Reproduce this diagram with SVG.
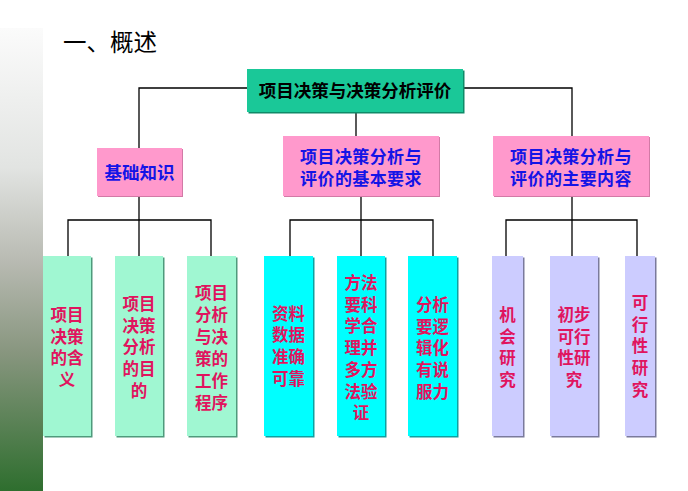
<svg xmlns="http://www.w3.org/2000/svg" width="688" height="491" viewBox="0 0 688 491">
<defs>
<linearGradient id="strip" x1="0" y1="0" x2="0" y2="1">
<stop offset="0" stop-color="#fbfbfb"/>
<stop offset="0.3" stop-color="#e2e4e2"/>
<stop offset="0.5" stop-color="#b9bbb3"/>
<stop offset="0.7" stop-color="#88967f"/>
<stop offset="1" stop-color="#2e6e2e"/>
</linearGradient>
<style>
text{font-family:"Noto Sans CJK SC","Noto Sans",sans-serif;}
.b{font-weight:700;text-anchor:middle;}
.top{fill:#1ac898;}
.topsh{fill:#0f8a68;}
.pink{fill:#ff99cc;}
.pinksh{fill:#d27aa6;}
.green{fill:#a0f7d2;}
.greensh{fill:#4f9a7c;}
.cyan{fill:#00ffff;}
.cyansh{fill:#10a0a0;}
.lav{fill:#ccccff;}
.lavsh{fill:#7a7a9c;}
.t1{font-size:17.5px;fill:#000;}
.t2{font-size:17.5px;fill:#1414e6;}
.t2s{font-size:17px;fill:#1414e6;letter-spacing:0.4px;}
.t3{font-size:16.5px;fill:#e0145e;}
.conn{fill:none;stroke:#000;stroke-width:1.3;}
</style>
</defs>
<rect width="688" height="491" fill="#fff"/>
<rect x="0" y="28" width="43" height="463" fill="url(#strip)"/>
<text x="63" y="50.5" style="font-size:23.5px;fill:#000;">一、概述</text>

<g id="connectors">
<polyline class="conn" points="247,88 139,88 139,148"/>
<polyline class="conn" points="463,88 572,88 572,136"/>
<line class="conn" x1="356" y1="112" x2="356" y2="136"/>
<line class="conn" x1="139" y1="196" x2="139" y2="256"/>
<polyline class="conn" points="68,256 68,220 211,220 211,256"/>
<line class="conn" x1="361" y1="196" x2="361" y2="256"/>
<polyline class="conn" points="290,256 290,220 433,220 433,256"/>
<line class="conn" x1="572" y1="196" x2="572" y2="256"/>
<polyline class="conn" points="506,256 506,220 637,220 637,256"/>
</g>

<g id="root">
<rect class="topsh" x="248.5" y="70.5" width="216" height="43"/>
<rect class="top" x="247" y="69" width="216" height="43"/>
<text class="b t1" x="355" y="97">项目决策与决策分析评价</text>
</g>

<g id="basic">
<rect class="pinksh" x="98" y="149" width="85" height="48"/>
<rect class="pink" x="97" y="148" width="85" height="48"/>
<text class="b t2" x="139.5" y="178.5">基础知识</text>
</g>
<g id="requirements">
<rect class="pinksh" x="284" y="137" width="156" height="60"/>
<rect class="pink" x="283" y="136" width="156" height="60"/>
<text class="b t2s" x="361" y="162.5">项目决策分析与</text>
<text class="b t2s" x="361" y="185">评价的基本要求</text>
</g>
<g id="contents">
<rect class="pinksh" x="494" y="137" width="156" height="60"/>
<rect class="pink" x="493" y="136" width="156" height="60"/>
<text class="b t2s" x="571" y="162.5">项目决策分析与</text>
<text class="b t2s" x="571" y="185">评价的主要内容</text>
</g>

<g id="n1">
<rect class="greensh" x="44.5" y="257.5" width="48" height="180"/>
<rect class="green" x="43" y="256" width="48" height="180"/>
<text class="b t3"><tspan x="67" y="321">项目</tspan><tspan x="67" y="342.7">决策</tspan><tspan x="67" y="364.4">的含</tspan><tspan x="67" y="386.1">义</tspan></text>
</g>
<g id="n2">
<rect class="greensh" x="116.5" y="257.5" width="48" height="180"/>
<rect class="green" x="115" y="256" width="48" height="180"/>
<text class="b t3"><tspan x="139" y="310">项目</tspan><tspan x="139" y="331.7">决策</tspan><tspan x="139" y="353.4">分析</tspan><tspan x="139" y="375.1">的目</tspan><tspan x="139" y="396.8">的</tspan></text>
</g>
<g id="n3">
<rect class="greensh" x="188.5" y="257.5" width="49" height="180"/>
<rect class="green" x="187" y="256" width="49" height="180"/>
<text class="b t3"><tspan x="211.5" y="299">项目</tspan><tspan x="211.5" y="321">分析</tspan><tspan x="211.5" y="343">与决</tspan><tspan x="211.5" y="365">策的</tspan><tspan x="211.5" y="387">工作</tspan><tspan x="211.5" y="409">程序</tspan></text>
</g>
<g id="n4">
<rect class="cyansh" x="265.5" y="257.5" width="49" height="180"/>
<rect class="cyan" x="264" y="256" width="49" height="180"/>
<text class="b t3"><tspan x="288.5" y="319.5">资料</tspan><tspan x="288.5" y="341.2">数据</tspan><tspan x="288.5" y="362.9">准确</tspan><tspan x="288.5" y="384.6">可靠</tspan></text>
</g>
<g id="n5">
<rect class="cyansh" x="338.5" y="257.5" width="48" height="180"/>
<rect class="cyan" x="337" y="256" width="48" height="180"/>
<text class="b t3"><tspan x="361" y="289">方法</tspan><tspan x="361" y="310.7">要科</tspan><tspan x="361" y="332.4">学合</tspan><tspan x="361" y="354.1">理并</tspan><tspan x="361" y="375.8">多方</tspan><tspan x="361" y="397.5">法验</tspan><tspan x="361" y="419.2">证</tspan></text>
</g>
<g id="n6">
<rect class="cyansh" x="409.5" y="257.5" width="49" height="180"/>
<rect class="cyan" x="408" y="256" width="49" height="180"/>
<text class="b t3"><tspan x="432.5" y="311">分析</tspan><tspan x="432.5" y="332.7">要逻</tspan><tspan x="432.5" y="354.4">辑化</tspan><tspan x="432.5" y="376.1">有说</tspan><tspan x="432.5" y="397.8">服力</tspan></text>
</g>
<g id="n7">
<rect class="lavsh" x="493.5" y="257.5" width="31" height="180"/>
<rect class="lav" x="492" y="256" width="31" height="180"/>
<text class="b t3"><tspan x="507.5" y="321">机</tspan><tspan x="507.5" y="342.7">会</tspan><tspan x="507.5" y="364.4">研</tspan><tspan x="507.5" y="386.1">究</tspan></text>
</g>
<g id="n8">
<rect class="lavsh" x="551.5" y="257.5" width="48" height="180"/>
<rect class="lav" x="550" y="256" width="48" height="180"/>
<text class="b t3"><tspan x="574" y="321">初步</tspan><tspan x="574" y="342.7">可行</tspan><tspan x="574" y="364.4">性研</tspan><tspan x="574" y="386.1">究</tspan></text>
</g>
<g id="n9">
<rect class="lavsh" x="626.5" y="257.5" width="30" height="180"/>
<rect class="lav" x="625" y="256" width="30" height="180"/>
<text class="b t3"><tspan x="640" y="309">可</tspan><tspan x="640" y="330.7">行</tspan><tspan x="640" y="352.4">性</tspan><tspan x="640" y="374.1">研</tspan><tspan x="640" y="395.8">究</tspan></text>
</g>
</svg>
